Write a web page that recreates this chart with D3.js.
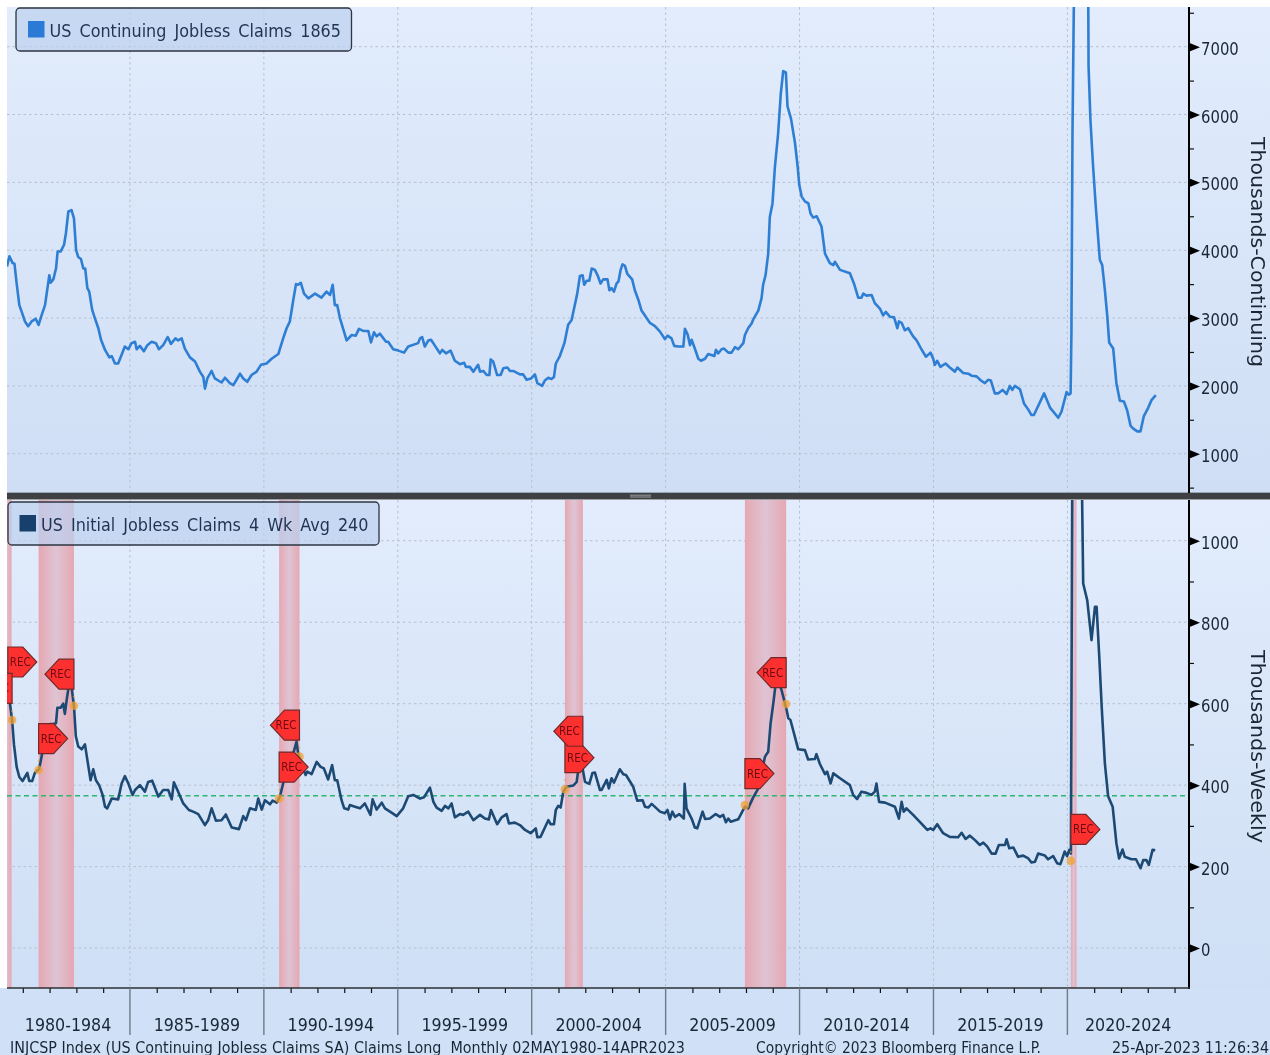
<!DOCTYPE html>
<html><head><meta charset="utf-8">
<script src="https://cdn.jsdelivr.net/npm/d3@7/dist/d3.min.js"></script>
<style>
html,body{margin:0;padding:0;background:#fff;overflow:hidden}
svg{display:block;filter:blur(0.45px)}
text{font-family:"DejaVu Sans",sans-serif;font-stretch:condensed;fill:#1a2636}
</style></head><body><div id="chart"></div>
<script>
const continuingYears=[1980.41,1980.5,1980.62,1980.69,1980.77,1980.87,1980.96,1981.08,1981.2,1981.33,1981.48,1981.59,1981.7,1981.83,1981.99,1982.04,1982.14,1982.24,1982.3,1982.41,1982.54,1982.61,1982.7,1982.82,1982.91,1982.99,1983.07,1983.17,1983.26,1983.33,1983.41,1983.48,1983.59,1983.69,1983.82,1983.92,1984.07,1984.23,1984.32,1984.44,1984.56,1984.69,1984.81,1984.94,1985.06,1985.19,1985.25,1985.37,1985.52,1985.65,1985.81,1985.97,1986.08,1986.24,1986.41,1986.53,1986.7,1986.8,1986.93,1987.05,1987.24,1987.43,1987.61,1987.74,1987.8,1987.89,1988.05,1988.17,1988.42,1988.55,1988.73,1988.86,1988.98,1989.11,1989.23,1989.38,1989.54,1989.73,1989.89,1990.1,1990.29,1990.54,1990.72,1990.85,1990.97,1991.1,1991.2,1991.28,1991.38,1991.5,1991.66,1991.91,1992.15,1992.34,1992.47,1992.57,1992.65,1992.74,1992.84,1993.09,1993.28,1993.43,1993.55,1993.71,1993.9,1994,1994.11,1994.21,1994.33,1994.56,1994.64,1994.83,1995.02,1995.23,1995.39,1995.76,1995.83,1995.91,1996.01,1996.14,1996.24,1996.39,1996.57,1996.66,1996.8,1996.97,1997.13,1997.32,1997.48,1997.54,1997.69,1997.82,1998,1998.07,1998.19,1998.32,1998.42,1998.47,1998.56,1998.71,1998.84,1998.94,1999.09,1999.19,1999.31,1999.56,1999.68,1999.81,1999.98,2000.12,2000.21,2000.39,2000.49,2000.62,2000.74,2000.83,2000.9,2001.05,2001.22,2001.36,2001.49,2001.7,2001.8,2001.9,2001.96,2002.05,2002.15,2002.24,2002.36,2002.46,2002.57,2002.67,2002.83,2002.9,2002.98,2003.07,2003.17,2003.24,2003.32,2003.39,2003.48,2003.57,2003.75,2003.85,2003.98,2004.1,2004.29,2004.41,2004.6,2004.79,2004.97,2005.07,2005.22,2005.32,2005.47,2005.66,2005.72,2005.82,2005.91,2005.97,2006.09,2006.22,2006.32,2006.47,2006.59,2006.82,2006.88,2006.96,2007.09,2007.18,2007.34,2007.46,2007.59,2007.71,2007.9,2007.96,2008.08,2008.21,2008.27,2008.46,2008.58,2008.64,2008.73,2008.83,2008.89,2008.99,2009.08,2009.2,2009.3,2009.39,2009.49,2009.55,2009.68,2009.83,2009.93,2009.99,2010.08,2010.2,2010.33,2010.41,2010.51,2010.64,2010.82,2010.95,2011.13,2011.26,2011.32,2011.51,2011.88,2012.03,2012.19,2012.31,2012.38,2012.5,2012.69,2012.81,2013,2013.12,2013.22,2013.37,2013.53,2013.65,2013.71,2013.81,2013.93,2014.06,2014.24,2014.37,2014.55,2014.72,2014.89,2014.99,2015.05,2015.14,2015.26,2015.45,2015.61,2015.8,2015.89,2016.11,2016.3,2016.42,2016.61,2016.77,2016.92,2017.04,2017.14,2017.29,2017.42,2017.58,2017.73,2017.85,2017.94,2018.04,2018.23,2018.38,2018.54,2018.66,2018.75,2019.13,2019.35,2019.66,2019.78,2019.97,2020.05,2020.12,2020.15,2020.19,2020.24,2020.4,2020.78,2020.79,2020.86,2020.96,2021.06,2021.21,2021.3,2021.4,2021.49,2021.56,2021.71,2021.83,2021.96,2022.11,2022.23,2022.36,2022.46,2022.61,2022.73,2022.85,2023.02,2023.14,2023.3];
const continuingValues=[3760,3910,3810,3800,3510,3190,3090,2950,2880,2950,2990,2900,3040,3190,3630,3520,3570,3730,3980,3980,4080,4250,4570,4590,4470,4000,3900,3870,3730,3730,3440,3390,3120,3000,2850,2680,2530,2420,2440,2330,2330,2460,2580,2540,2630,2650,2540,2590,2510,2600,2650,2630,2540,2600,2720,2620,2700,2670,2700,2550,2420,2360,2210,2130,1960,2110,2220,2110,2050,2120,2040,2010,2090,2180,2110,2060,2160,2210,2310,2330,2400,2470,2700,2850,2950,3270,3500,3490,3520,3360,3290,3360,3300,3390,3340,3490,3190,3190,3000,2670,2750,2740,2840,2810,2810,2640,2790,2730,2770,2650,2650,2540,2520,2490,2580,2630,2700,2720,2580,2670,2680,2590,2480,2530,2480,2520,2370,2320,2340,2280,2280,2210,2310,2210,2220,2160,2160,2390,2360,2160,2160,2260,2270,2220,2220,2170,2170,2090,2110,2170,2040,2000,2080,2120,2100,2130,2330,2440,2630,2900,2970,3360,3620,3630,3490,3550,3550,3730,3710,3630,3510,3570,3570,3410,3440,3390,3510,3540,3710,3790,3770,3650,3570,3410,3270,3110,3000,2930,2880,2800,2690,2740,2700,2590,2580,2580,2840,2760,2600,2680,2550,2400,2370,2400,2470,2440,2530,2480,2540,2550,2490,2490,2570,2540,2630,2750,2850,2920,2980,3110,3290,3490,3630,3950,4490,4690,5230,5720,6310,6640,6620,6120,5940,5580,5230,4960,4790,4720,4690,4540,4480,4500,4350,3950,3810,3780,3830,3710,3660,3510,3300,3300,3360,3330,3340,3220,3140,3040,3090,3020,3010,2850,2950,2930,2820,2850,2730,2670,2540,2430,2490,2400,2310,2370,2280,2330,2270,2210,2270,2190,2180,2150,2140,2080,2040,2090,2080,1890,1890,1940,1880,2000,1940,2000,1950,1740,1650,1570,1570,1890,1680,1530,1620,1910,1870,1890,2770,5720,7590,23000,7590,6710,5920,5230,4640,3860,3780,3410,3020,2640,2550,2040,1780,1770,1640,1410,1370,1330,1330,1550,1680,1790,1865];

const initialYears=[1980.45,1980.52,1980.6,1980.67,1980.77,1980.87,1980.99,1981.08,1981.17,1981.24,1981.35,1981.45,1981.61,1981.7,1981.83,1982.01,1982.14,1982.24,1982.29,1982.41,1982.51,1982.57,1982.64,1982.72,1982.82,1982.91,1982.98,1983.07,1983.2,1983.32,1983.41,1983.53,1983.63,1983.73,1983.85,1983.98,1984.07,1984.15,1984.32,1984.56,1984.69,1984.81,1984.94,1985.1,1985.19,1985.37,1985.56,1985.68,1985.83,1986.06,1986.24,1986.43,1986.56,1986.64,1986.8,1986.99,1987.2,1987.36,1987.55,1987.8,1987.92,1988.05,1988.21,1988.42,1988.58,1988.8,1989.07,1989.23,1989.33,1989.48,1989.7,1989.79,1989.92,1990.04,1990.23,1990.33,1990.48,1990.6,1990.72,1990.82,1991.1,1991.22,1991.28,1991.41,1991.56,1991.62,1991.78,1991.97,1992.12,1992.24,1992.4,1992.55,1992.65,1992.74,1992.9,1993,1993.15,1993.21,1993.4,1993.59,1993.77,1993.98,1994.06,1994.21,1994.4,1994.52,1994.71,1994.96,1995.2,1995.39,1995.58,1995.83,1995.98,1996.08,1996.2,1996.33,1996.45,1996.64,1996.76,1996.89,1997.01,1997.13,1997.32,1997.44,1997.63,1997.82,1998.07,1998.25,1998.4,1998.48,1998.71,1998.88,1999.06,1999.15,1999.37,1999.56,1999.75,1999.96,2000.15,2000.21,2000.33,2000.62,2000.71,2000.83,2000.9,2000.99,2001.08,2001.18,2001.3,2001.55,2001.68,2001.78,2001.9,2001.99,2002.15,2002.27,2002.36,2002.55,2002.61,2002.8,2002.88,2002.98,2003.07,2003.29,2003.42,2003.52,2003.79,2003.94,2004.14,2004.23,2004.35,2004.48,2004.79,2004.97,2005.07,2005.16,2005.25,2005.35,2005.51,2005.68,2005.71,2005.78,2005.97,2006.09,2006.18,2006.38,2006.47,2006.65,2006.87,2007.03,2007.15,2007.25,2007.34,2007.43,2007.71,2007.96,2008.08,2008.27,2008.46,2008.71,2008.83,2008.92,2009.02,2009.14,2009.24,2009.33,2009.52,2009.58,2009.66,2009.95,2010.2,2010.32,2010.57,2010.63,2010.76,2010.95,2011.03,2011.16,2011.26,2011.51,2011.88,2012,2012.15,2012.31,2012.5,2012.69,2012.81,2012.87,2012.97,2013.19,2013.56,2013.71,2013.81,2013.89,2013.99,2014.24,2014.49,2014.77,2014.89,2014.99,2015.14,2015.36,2015.61,2015.92,2016.05,2016.2,2016.36,2016.55,2016.73,2016.86,2017.01,2017.17,2017.32,2017.44,2017.67,2017.73,2017.83,2017.98,2018.16,2018.35,2018.54,2018.66,2018.79,2018.91,2019.16,2019.28,2019.47,2019.62,2019.74,2019.9,2019.99,2020.07,2020.13,2020.18,2020.34,2020.55,2020.59,2020.74,2020.9,2021.03,2021.09,2021.19,2021.28,2021.4,2021.52,2021.69,2021.83,2021.93,2022.06,2022.14,2022.39,2022.56,2022.73,2022.83,2022.95,2023.04,2023.18,2023.28];
const initialValues=[630,600,560,500,445,420,410,420,430,410,410,430,440,470,515,550,550,552,590,590,600,575,610,645,640,595,520,495,488,500,462,412,439,412,400,376,347,343,367,365,404,422,404,376,388,400,384,408,411,372,388,388,365,407,384,355,339,335,329,302,314,343,313,314,328,296,292,324,314,343,339,367,340,363,353,362,357,372,404,433,478,507,478,449,425,433,427,457,445,441,414,449,412,412,363,343,340,351,347,343,355,327,365,340,357,343,335,324,343,373,376,367,370,381,394,359,345,337,349,343,355,321,329,327,335,314,327,318,316,339,304,321,329,306,308,302,290,282,294,272,273,314,304,304,339,349,345,384,396,399,408,458,441,408,403,430,431,388,388,413,392,417,406,439,427,425,396,362,363,347,345,354,335,331,339,316,335,322,329,318,403,343,318,296,294,335,317,318,329,322,327,309,318,310,316,347,343,370,392,470,482,552,601,666,650,633,584,564,560,488,486,463,464,476,452,427,433,404,429,417,400,376,366,384,381,376,384,404,359,357,347,318,359,335,343,327,310,290,294,290,304,282,273,272,283,268,276,265,253,259,249,232,232,253,253,267,245,247,224,227,220,210,212,232,227,218,226,208,206,237,226,241,232,1100,5000,1100,895,854,756,838,838,715,593,453,373,347,257,220,242,224,218,218,196,216,216,204,241,240];

const recessionStarts=[1980.15,1981.59,1990.57,2001.24,2007.96,2020.13];
const recessionEnds=[1980.58,1982.91,1991.33,2001.91,2009.5,2020.34];
// REC flags: date, value of the initial claims series there, and pointing direction
const flagDates=[1980.44,1980.6,1981.59,1982.91,1990.57,1991.33,2001.24,2001.91,2007.96,2009.5,2020.13];
const flagValues=[625,560,437,595,367,470,390,455,351,599,214];
const flagPoints=["right","left","right","left","right","left","right","left","right","left","right"];
const referenceLevel=374;
const periodStarts=[1985,1990,1995,2000,2005,2010,2015,2020];
const periodLabels=["1980-1984","1985-1989","1990-1994","1995-1999","2000-2004","2005-2009","2010-2014","2015-2019","2020-2024"];
const yearTicks=d3.range(1981,2025);
const continuingMajor=[1000,2000,3000,4000,5000,6000,7000];
const continuingMinor=[500,1500,2500,3500,4500,5500,6500,7500];
const initialMajor=[0,200,400,600,800,1000];
const initialMinor=[100,300,500,700,900];
const legendTop="US Continuing Jobless Claims 1865";
const legendBottom="US Initial Jobless Claims 4 Wk Avg 240";
const footLeft="INJCSP Index (US Continuing Jobless Claims SA) Claims Long  Monthly 02MAY1980-14APR2023";
const footMid="Copyright\u00A9 2023 Bloomberg Finance L.P.";
const footRight="25-Apr-2023 11:26:34";

const W=1270,H=1055,L=7,R=1189,T1=7,B1=493,T2=500,B2=988;
const svg=d3.select("#chart").append("svg").attr("width",W).attr("height",H);
const defs=svg.append("defs");
function vGrad(id,a,b){const g=defs.append("linearGradient").attr("id",id).attr("x1",0).attr("x2",0).attr("y1",0).attr("y2",1);
 g.append("stop").attr("offset",0).attr("stop-color",a);g.append("stop").attr("offset",1).attr("stop-color",b);}
vGrad("bgTop","#e2ecfc","#cfdef5");vGrad("bgBot","#e2ecfc","#cfdff5");
const bg=defs.append("linearGradient").attr("id","band");
[[0,"#e6a4ae"],[.5,"#dfc2d2"],[1,"#e6a4ae"]].forEach(s=>bg.append("stop").attr("offset",s[0]).attr("stop-color",s[1]));
defs.append("clipPath").attr("id","c1").append("rect").attr("x",L).attr("y",T1).attr("width",R-L).attr("height",B1-T1);
defs.append("clipPath").attr("id","c2").append("rect").attr("x",L).attr("y",T2).attr("width",R-L).attr("height",B2-T2);

const x=d3.scaleLinear().domain([1980.41,2024.54]).range([L,R]);
const yTop=d3.scaleLinear().domain([421,7585]).range([B1,T1]);
const yBot=d3.scaleLinear().domain([-98,1100]).range([B2,T2]);

svg.append("rect").attr("width",W).attr("height",H).attr("fill","#fff");
svg.append("rect").attr("x",L).attr("y",T1).attr("width",W-L).attr("height",B1-T1).attr("fill","url(#bgTop)");
svg.append("rect").attr("x",L).attr("y",T2).attr("width",W-L).attr("height",B2-T2).attr("fill","url(#bgBot)");
svg.append("rect").attr("x",0).attr("y",B2).attr("width",W).attr("height",H-B2).attr("fill","#d0e0f6");

// grid
function grid(y,majors,t,b){
 const g=svg.append("g").attr("fill","none").attr("stroke","#b6c0ce").attr("stroke-width",1).attr("stroke-dasharray","2.5 3");
 g.selectAll("line.h").data(majors).join("line").attr("class","h").attr("x1",L).attr("x2",R).attr("y1",d=>y(d)).attr("y2",d=>y(d));
 g.selectAll("line.v").data(periodStarts).join("line").attr("class","v").attr("x1",d=>x(d)).attr("x2",d=>x(d)).attr("y1",t).attr("y2",b);
}
grid(yTop,continuingMajor,T1,B1);
grid(yBot,initialMajor,T2,B2);

// recession bands
svg.append("g").attr("clip-path","url(#c2)").selectAll("rect").data(recessionStarts).join("rect")
 .attr("x",d=>x(d)).attr("width",(d,i)=>x(recessionEnds[i])-x(d)).attr("y",T2).attr("height",B2-T2)
 .attr("fill","url(#band)").attr("opacity",.95);

// reference dashed line
svg.append("line").attr("x1",L).attr("x2",R).attr("y1",yBot(referenceLevel)).attr("y2",yBot(referenceLevel))
 .attr("stroke","#2cb56e").attr("stroke-width",1.6).attr("stroke-dasharray","5 3.5");

// series
const lineOf=(xs,y)=>d3.line().x((d,i)=>x(xs[i])).y(d=>y(d));
svg.append("path").attr("clip-path","url(#c1)").attr("d",lineOf(continuingYears,yTop)(continuingValues))
 .attr("fill","none").attr("stroke","#2e7fd4").attr("stroke-width",2.6).attr("stroke-linejoin","round");
svg.append("path").attr("clip-path","url(#c2)").attr("d",lineOf(initialYears,yBot)(initialValues))
 .attr("fill","none").attr("stroke","#1d4a74").attr("stroke-width",2.6).attr("stroke-linejoin","round");

// flags
const fl=svg.append("g").attr("clip-path","url(#c2)");
fl.selectAll("circle.d").data(flagDates).join("circle").attr("class","d").attr("cx",d=>x(d)).attr("cy",(d,i)=>yBot(flagValues[i])).attr("r",4.3).attr("fill","#f0a030").attr("opacity",.75);
fl.selectAll("circle.s").data(flagDates).join("circle").attr("class","s").attr("cx",d=>x(d)).attr("cy",(d,i)=>yBot(flagValues[i])-9).attr("r",.9).attr("fill","#f0a030").attr("opacity",.8);
const fw=29,fh=30,gap=16.5;
flagDates.forEach((d,i)=>{
 const px=x(d),by=yBot(flagValues[i])-gap,ty=by-fh,my=by-fh/2,dir=flagPoints[i];
 const p=dir==="right"?[[px,ty],[px+15,ty],[px+fw,my],[px+15,by],[px,by]]:[[px,ty],[px-15,ty],[px-fw,my],[px-15,by],[px,by]];
 fl.append("path").attr("d",d3.line()(p)+"Z").attr("fill","#fd3030").attr("stroke","#6e2a2a").attr("stroke-width",1.2);
 fl.append("text").attr("x",dir==="right"?px+12.5:px-13.5).attr("y",my+4).attr("text-anchor","middle").attr("font-size",11.5).style("fill","#6e0a12").text("REC");
});

// legends
function legend(x0,y0,w,sx,col,txt,tx,tw){
 svg.append("rect").attr("x",x0).attr("y",y0).attr("width",w).attr("height",43).attr("rx",4)
  .attr("fill","#bdd0ef").attr("fill-opacity",.72).attr("stroke","#2e3440").attr("stroke-width",1.3);
 svg.append("rect").attr("x",sx).attr("y",y0+13).attr("width",16.5).attr("height",16.5).attr("fill",col);
 svg.append("text").attr("x",tx).attr("y",y0+29).attr("font-size",18).attr("word-spacing",3).attr("textLength",tw).attr("lengthAdjust","spacingAndGlyphs").style("fill","#1f3352").text(txt);
}
legend(16,8,335.5,28,"#2b7bd6",legendTop,49.5,291.5);
legend(8,502,371,19.5,"#17416c",legendBottom,41,327.5);

// separator
svg.append("rect").attr("x",L).attr("y",B1).attr("width",W-L).attr("height",6.5).attr("fill","#3e4044");
svg.append("rect").attr("x",L).attr("y",B1-1).attr("width",W-L).attr("height",1).attr("fill","#9aa6b4");
[495.2,497].forEach(v=>svg.append("line").attr("x1",630).attr("x2",651).attr("y1",v).attr("y2",v).attr("stroke","#9a9ca0").attr("stroke-width",1));

// axes
function yAxis(y,major,minor,t,b){
 const gm=svg.append("g").attr("transform",`translate(${R},0)`).call(d3.axisRight(y).tickValues(minor).tickSize(5).tickFormat(""));
 gm.select(".domain").remove();gm.selectAll("line").attr("stroke","#111").attr("stroke-width",1.2);
 const g=svg.append("g").attr("transform",`translate(${R},0)`).call(d3.axisRight(y).tickValues(major).tickSize(0).tickPadding(12).tickFormat(d=>d));
 g.select(".domain").remove();
 g.selectAll("text").attr("font-size",18).attr("textLength",function(){return this.textContent.length*9.45}).attr("lengthAdjust","spacingAndGlyphs").attr("dy","0.42em").style("font-family","'DejaVu Sans',sans-serif");
 g.selectAll(".tick").append("path").attr("d","M0,-4.5L11,0L0,4.5Z").attr("fill","#000");
 svg.append("line").attr("x1",R).attr("x2",R).attr("y1",t).attr("y2",b).attr("stroke","#000").attr("stroke-width",2);
}
yAxis(yTop,continuingMajor,continuingMinor,T1,B1);
yAxis(yBot,initialMajor,initialMinor,T2,B2+1);

const xa=svg.append("g").attr("transform",`translate(0,${B2})`).call(d3.axisBottom(x).tickValues(yearTicks.filter(v=>!periodStarts.includes(v)&&x(v)<R)).tickSize(5).tickFormat(""));
xa.select(".domain").remove();xa.selectAll("line").attr("stroke","#111").attr("stroke-width",1.2);
svg.append("line").attr("x1",L).attr("x2",R+1).attr("y1",B2).attr("y2",B2).attr("stroke","#2c3036").attr("stroke-width",1.5);
svg.append("g").selectAll("line").data(periodStarts).join("line").attr("x1",d=>x(d)).attr("x2",d=>x(d)).attr("y1",B2).attr("y2",1035).attr("stroke","#6f7a88").attr("stroke-width",1.4);
const edges=[1980].concat(periodStarts,[x.domain()[1]]);
const labelCx=periodLabels.map((l,i)=>i===0?x(1982.69):(x(edges[i])+x(edges[i+1]))/2);
svg.append("g").selectAll("text").data(periodLabels).join("text").attr("x",(d,i)=>labelCx[i]).attr("y",1030.5).attr("text-anchor","middle")
 .attr("font-size",18).attr("textLength",86.5).attr("lengthAdjust","spacingAndGlyphs").text(d=>d);

// axis titles
function vTitle(txt,cx,cy,len){svg.append("text").attr("transform",`translate(${cx},${cy}) rotate(90)`).attr("text-anchor","middle").attr("font-size",19).attr("textLength",len).attr("lengthAdjust","spacingAndGlyphs").text(txt);}
vTitle("Thousands-Continuing",1251,252,230);
vTitle("Thousands-Weekly",1251,746.5,193);

// footer
function foot(txt,x0,len){svg.append("text").attr("x",x0).attr("y",1052.5).attr("font-size",15).attr("textLength",len).attr("lengthAdjust","spacingAndGlyphs").style("white-space","pre").text(txt);}
foot(footLeft,10,675);foot(footMid,756,285);foot(footRight,1112,157);
</script></body></html>
